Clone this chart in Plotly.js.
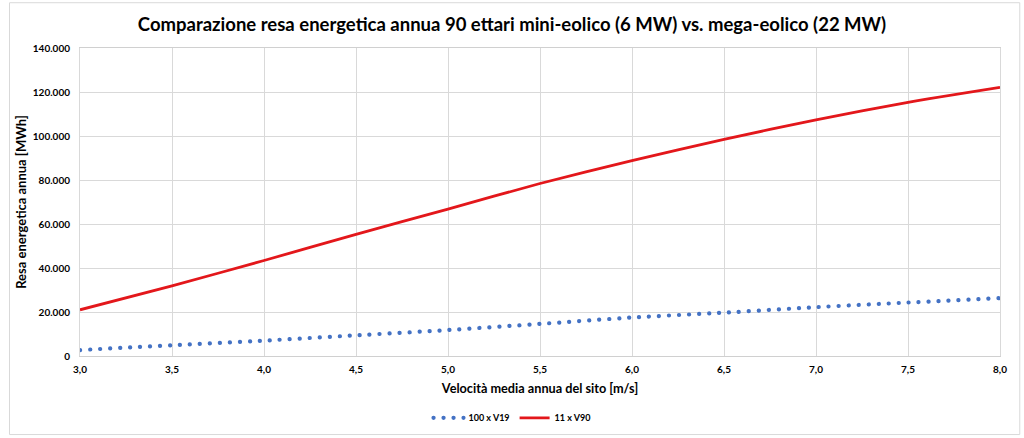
<!DOCTYPE html>
<html>
<head>
<meta charset="utf-8">
<script src="https://cdn.plot.ly/plotly-3.0.1.min.js"></script>
<style>
html,body{margin:0;padding:0;background:#fff;}
#chart{width:1024px;height:438px;}
.dotted-trace .js-line{stroke-linecap:round;}
</style>
</head>
<body>
<div id="chart"></div>
<script>
// Wind speed (m/s)
const windSpeed = [3.0, 3.5, 4.0, 4.5, 5.0, 5.5, 6.0, 6.5, 7.0, 7.5, 8.0];
// 100 x V19 annual energy yield (MWh)
const mini100xV19 = [2700, 4900, 7000, 9400, 11800, 14600, 17500, 19700, 22200, 24300, 26300];
// 11 x V90 annual energy yield (MWh)
const mega11xV90 = [21000, 31900, 43400, 55300, 66800, 78400, 88800, 98500, 107300, 115300, 122100];

const seriesNames = ['100 x V19', '11 x V90'];
const chartTitle = 'Comparazione resa energetica annua 90 ettari mini-eolico (6 MW) vs. mega-eolico (22 MW)';
const xTitle = 'Velocità media annua del sito [m/s]';
const yTitle = 'Resa energetica annua [MWh]';

const FONT = 'Lato, "Open Sans", sans-serif';

const traces = [
  {
    x: windSpeed, y: mini100xV19, name: seriesNames[0],
    type: 'scatter', mode: 'lines', line: {shape: 'spline', smoothing: 0.6, color: '#4472C4', width: 4.2, dash: '0.1px,9.9px'}
  },
  {
    x: windSpeed, y: mega11xV90, name: seriesNames[1],
    type: 'scatter', mode: 'lines', line: {shape: 'spline', smoothing: 0.6, color: '#E3171B', width: 2.8}
  }
];

const layout = {
  width: 1024, height: 438,
  paper_bgcolor: '#fff', plot_bgcolor: '#fff',
  separators: ',.',
  font: {family: FONT, color: '#000'},
  margin: {l: 80, r: 24, t: 48, b: 82},
  title: {text: '<b>' + chartTitle + '</b>', font: {family: FONT, size: 18.5, color: '#000'}, x: 0.5, xref: 'container', xanchor: 'center', y: 0.945, yanchor: 'middle'},
  xaxis: {
    range: [3, 8], dtick: 0.5, tick0: 3, tickformat: '.1f',
    showgrid: true, gridcolor: '#D9D9D9', gridwidth: 1,
    showline: true, linecolor: '#D0D0D0', linewidth: 1, mirror: true,
    ticks: '', zeroline: false, ticklabelstandoff: 4, automargin: false,
    tickfont: {family: FONT, size: 10, color: '#000', weight: 'bold'},
    title: {text: '<b>' + xTitle + '</b>', font: {family: FONT, size: 12.7, color: '#000'}, standoff: 10}
  },
  yaxis: {
    range: [0, 140000], dtick: 20000, tickformat: ',.0f',
    showgrid: true, gridcolor: '#D9D9D9', gridwidth: 1,
    showline: true, linecolor: '#D9D9D9', linewidth: 1, mirror: true,
    ticks: '', zeroline: false, ticklabelstandoff: 7, automargin: false,
    tickfont: {family: FONT, size: 10, color: '#000', weight: 'bold'},
    title: {text: '<b>' + yTitle + '</b>', font: {family: FONT, size: 13, color: '#000'}, standoff: 3}
  },
  legend: {
    orientation: 'h', xref: 'container', yref: 'container',
    x: 0.5, xanchor: 'center', y: 0.046, yanchor: 'middle',
    font: {family: FONT, size: 9, color: '#000', weight: 'bold'},
    itemwidth: 30, tracegroupgap: 0
  },
  showlegend: true,
  shapes: [{
    type: 'rect', xref: 'paper', yref: 'paper', layer: 'below',
    x0: -0.0766, x1: 1.0215, y0: -0.255, y1: 1.147,
    line: {color: '#D9D9D9', width: 1}
  }]
};

Plotly.newPlot('chart', traces, layout, {displayModeBar: false, staticPlot: true}).then(function(gd){
  const t = gd.querySelectorAll('.scatterlayer .trace');
  if (t[0]) t[0].classList.add('dotted-trace');
  const lt = gd.querySelectorAll('.legend .traces');
  if (lt[0]) lt[0].classList.add('dotted-trace');
});
</script>
</body>
</html>
